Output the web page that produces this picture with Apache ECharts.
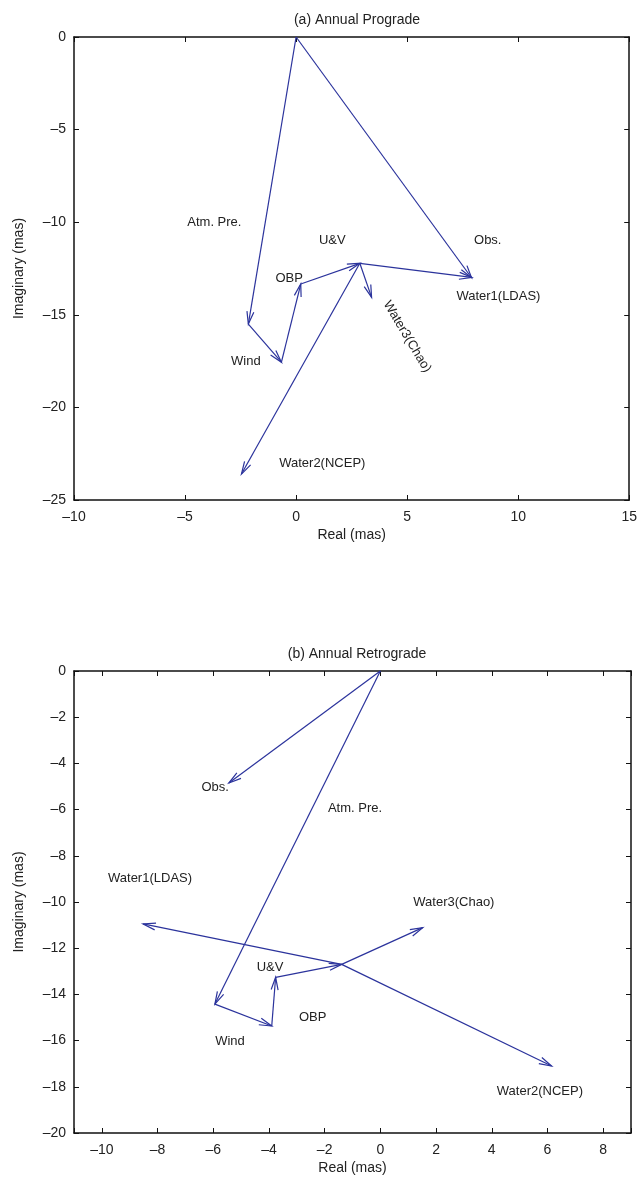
<!DOCTYPE html>
<html>
<head>
<meta charset="utf-8">
<script src="https://cdn.jsdelivr.net/npm/echarts@6/dist/echarts.min.js"></script>
<style>
  html, body { margin: 0; padding: 0; background: #fff; }
  #chart { width: 640px; height: 1190px; }
</style>
</head>
<body>
<div id="chart"></div>
<script>
// component names, same order in both panels
const names = ['Atm. Pre.', 'Wind', 'OBP', 'U&V', 'Water1(LDAS)', 'Water2(NCEP)', 'Water3(Chao)', 'Obs.']

// (a) annual prograde, arrow tail / head (mas)
const proX0 = [0, -2.15, -0.66, 0.21, 2.87, 2.87, 2.87, 0]
const proY0 = [0, -15.5, -17.56, -13.34, -12.22, -12.22, -12.22, 0]
const proX1 = [-2.15, -0.66, 0.21, 2.87, 7.91, -2.46, 3.4, 7.9]
const proY1 = [-15.5, -17.56, -13.34, -12.22, -12.98, -23.6, -14.06, -13.0]
// label anchor points (mas) and rotation (deg)
const proLabX = [-3.68, -2.26, -0.31, 1.63, 9.11, 1.18, 5.0, 8.63]
const proLabY = [-9.99, -17.53, -13.03, -11.0, -14.02, -23.0, -16.18, -11.0]
const proLabRot = [0, 0, 0, 0, 0, 0, -59, 0]

// (b) annual retrograde
const retX0 = [0, -5.94, -3.9, -3.76, -1.39, -1.39, -1.39, 0]
const retY0 = [0, -14.42, -15.37, -13.26, -12.7, -12.7, -12.7, 0]
const retX1 = [-5.94, -3.9, -3.76, -1.39, -8.52, 6.15, 1.52, -5.44]
const retY1 = [-14.42, -15.37, -13.26, -12.7, -10.95, -17.1, -11.11, -4.85]
const retLabX = [-0.91, -5.4, -2.43, -3.96, -8.27, 5.73, 2.64, -5.93]
const retLabY = [-5.97, -16.02, -14.99, -12.83, -9.0, -18.21, -10.03, -5.02]
const retLabRot = [0, 0, 0, 0, 0, 0, 0, 0]

const lineColor = '#2b339c'
const font = 'Liberation Sans, Arial, Helvetica, sans-serif'

const minus = v => String(v).replace('-', '\u2013')

function arrowItem(params, api) {
  const p0 = api.coord([api.value(0), api.value(1)])
  const p1 = api.coord([api.value(2), api.value(3)])
  const ang = Math.atan2(p1[1] - p0[1], p1[0] - p0[0])
  const L = 13
  const a = 0.27
  const h1 = [p1[0] - L * Math.cos(ang - a), p1[1] - L * Math.sin(ang - a)]
  const h2 = [p1[0] - L * Math.cos(ang + a), p1[1] - L * Math.sin(ang + a)]
  return {
    type: 'group',
    children: [
      { type: 'line', shape: { x1: p0[0], y1: p0[1], x2: p1[0], y2: p1[1] }, style: { stroke: lineColor, lineWidth: 1.2 } },
      { type: 'polyline', shape: { points: [h1, p1, h2] }, style: { stroke: lineColor, fill: null, lineWidth: 1.2 } }
    ]
  }
}

function labelItem(params, api) {
  const p = api.coord([api.value(0), api.value(1)])
  return {
    type: 'text',
    x: p[0],
    y: p[1],
    rotation: api.value(2) * Math.PI / 180,
    style: {
      text: names[params.dataIndex],
      fill: '#222',
      fontSize: 13,
      fontFamily: font,
      align: 'center',
      verticalAlign: 'middle'
    }
  }
}

function axisPair(kind, gridIndex, range) {
  const base = {
    type: 'value',
    gridIndex,
    min: range.min,
    max: range.max,
    axisLine: { show: true, onZero: false, lineStyle: { color: '#111', width: 1.5 } },
    axisTick: { show: true, inside: true, length: 5, lineStyle: { color: '#111', width: 1 } },
    splitLine: { show: false }
  }
  if (range.interval) base.interval = range.interval
  if (range.splitNumber) base.splitNumber = range.splitNumber
  const main = Object.assign({}, base, {
    position: kind === 'x' ? 'bottom' : 'left',
    name: range.name,
    nameLocation: 'middle',
    nameGap: range.nameGap,
    nameTextStyle: { color: '#222', fontSize: 14, fontFamily: font },
    axisLabel: {
      color: '#222',
      fontSize: 14,
      fontFamily: font,
      margin: kind === 'x' ? 10 : 8,
      formatter: v => (range.even && v % 2 !== 0) ? '' : minus(v)
    }
  })
  const mirror = Object.assign({}, base, {
    position: kind === 'x' ? 'top' : 'right',
    axisLabel: { show: false }
  })
  return [main, mirror]
}

const chart = echarts.init(document.getElementById('chart'))

const proArrows = proX0.map((x, i) => [x, proY0[i], proX1[i], proY1[i]])
const proLabels = proLabX.map((x, i) => [x, proLabY[i], proLabRot[i]])
const retArrows = retX0.map((x, i) => [x, retY0[i], retX1[i], retY1[i]])
const retLabels = retLabX.map((x, i) => [x, retLabY[i], retLabRot[i]])

chart.setOption({
  animation: false,
  title: [
    { text: '(a) Annual Prograde', left: 352, top: 8, textAlign: 'center',
      textStyle: { color: '#222', fontSize: 14, fontWeight: 'normal', fontFamily: font } },
    { text: '(b) Annual Retrograde', left: 352, top: 642, textAlign: 'center',
      textStyle: { color: '#222', fontSize: 14, fontWeight: 'normal', fontFamily: font } }
  ],
  grid: [
    { left: 74, top: 37, width: 557, height: 463 },
    { left: 74, top: 671, width: 557, height: 462 }
  ],
  xAxis: [
    ...axisPair('x', 0, { min: -10, max: 15, interval: 5, name: 'Real (mas)', nameGap: 28 }),
    ...axisPair('x', 1, { min: -11, max: 9, splitNumber: 10, even: true, name: 'Real (mas)', nameGap: 28 })
  ],
  yAxis: [
    ...axisPair('y', 0, { min: -25, max: 0, interval: 5, name: 'Imaginary (mas)', nameGap: 48 }),
    ...axisPair('y', 1, { min: -20, max: 0, interval: 2, name: 'Imaginary (mas)', nameGap: 48 })
  ],
  series: [
    { type: 'custom', xAxisIndex: 0, yAxisIndex: 0, renderItem: arrowItem, data: proArrows,
      encode: { x: [0, 2], y: [1, 3] }, silent: true },
    { type: 'custom', xAxisIndex: 0, yAxisIndex: 0, renderItem: labelItem, data: proLabels,
      encode: { x: 0, y: 1 }, silent: true },
    { type: 'custom', xAxisIndex: 2, yAxisIndex: 2, renderItem: arrowItem, data: retArrows,
      encode: { x: [0, 2], y: [1, 3] }, silent: true },
    { type: 'custom', xAxisIndex: 2, yAxisIndex: 2, renderItem: labelItem, data: retLabels,
      encode: { x: 0, y: 1 }, silent: true }
  ]
})
</script>
</body>
</html>
